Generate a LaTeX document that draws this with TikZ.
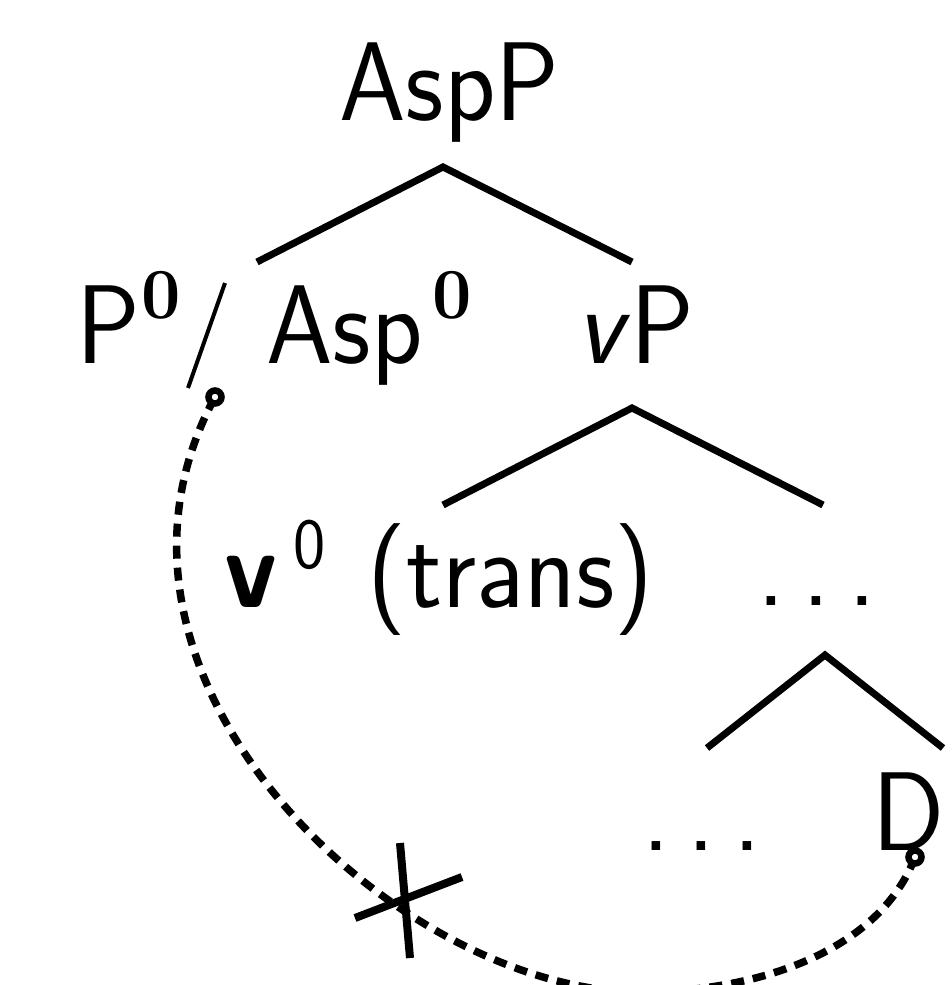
\documentclass[tikz,border=0pt]{standalone}
\usepackage{graphicx}
\usepackage{fontspec}
\newfontface\bzface{lmroman10-bold}[Extension=.otf]
\newcommand\hs[1]{\scalebox{0.95}[1]{#1}}
\newcommand\bzero{\raisebox{45pt}{\fontsize{72}{80}\bzface 0}}
\newcommand\szero{\raisebox{39pt}{\fontsize{72}{80}\selectfont 0}}
\newcommand\tdots{.\kern19pt.\kern19pt.}
\begin{document}
\begin{tikzpicture}[x=1pt,y=-1pt,
  font=\sffamily\fontsize{112}{130}\selectfont,
  lbl/.style={anchor=base west, inner sep=0pt},
  branch/.style={line width=7pt},
  movedash/.style={line width=7.5pt, dash pattern=on 13pt off 9pt},
  endring/.style={line width=6.5pt, draw=black, fill=white},
  cross/.style={line width=8pt}]
\useasboundingbox (0,0) rectangle (952,985);
% labels
\node[lbl] (asp) at (339,120) {\hs{AspP}};
\node[lbl] (p0) at (76,363) {\hs{P\kern2pt\bzero}};
\node[lbl] (asp0) at (266,363) {\hs{Asp\kern10pt\bzero}};
\node[lbl] (vp) at (576,363) {\hs{\textit{v}P}};
\node[lbl] (v0) at (224,607) {\hs{\textbf{v}\kern17pt\szero\kern9pt\ (trans)}};
\node[lbl] (dots1) at (757,605) {\hs{\tdots}};
\node[lbl] (dots2) at (642,850) {\hs{\tdots}};
\node[lbl] (d) at (872,850) {\hs{D}};
% tree branches
\coordinate (t1) at (443,167); \coordinate (l1) at (257,262); \coordinate (r1) at (632,262);
\coordinate (t2) at (632,408); \coordinate (l2) at (443,505); \coordinate (r2) at (823,505);
\coordinate (t3) at (825,655); \coordinate (l3) at (707,748); \coordinate (r3) at (943,748);
\draw[branch] (l1) -- (t1) -- (r1);
\draw[branch] (l2) -- (t2) -- (r2);
\draw[branch] (l3) -- (t3) -- (r3);
% slash
\coordinate (s1) at (188,388); \coordinate (s2) at (225,283);
\draw[line width=4pt] (s1) -- (s2);
% movement path
\coordinate (pend) at (215,397);
\coordinate (dend) at (915,857);
\coordinate (bot) at (640,992);
\draw[movedash] (dend) .. controls (880,950) and (760,992) .. (bot)
  .. controls (400,992) and (62,680) .. (pend);
\draw[endring] (pend) circle (6.5);
\draw[endring] (dend) circle (6.5);
% cross
\coordinate (xa) at (400,843); \coordinate (xb) at (410,958);
\coordinate (xc) at (355,918); \coordinate (xd) at (462,877);
\draw[cross] (xa) -- (xb);
\draw[cross] (xc) -- (xd);
\end{tikzpicture}
\end{document}
